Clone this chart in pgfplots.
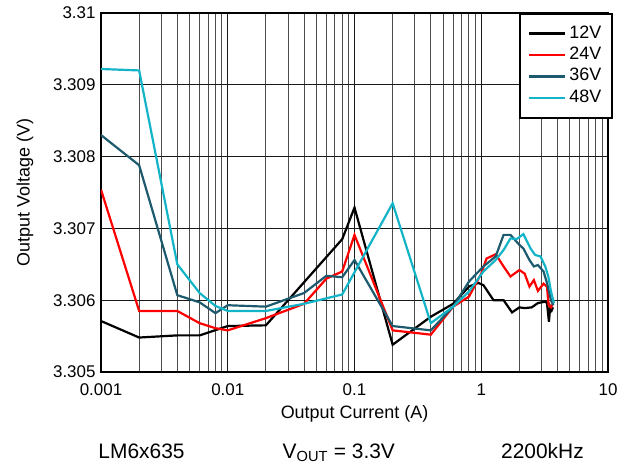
\documentclass[border=0pt]{standalone}
\usepackage{pgfplots}
\pgfplotsset{compat=1.18}
\usepackage{fontspec}
\setmainfont{Liberation Sans}
\definecolor{c36}{RGB}{30,90,110}
\definecolor{c48}{RGB}{20,180,200}
\begin{document}
\begin{tikzpicture}
\path[use as bounding box] (0bp,0bp) rectangle (634bp,465bp);
\begin{axis}[
  at={(101bp,93bp)}, anchor=south west,
  width=507bp, height=359bp, scale only axis,
  xmode=log, xmin=0.001, xmax=10, ymin=3.305, ymax=3.31,
  xtick={0.001,0.01,0.1,1,10}, xticklabels={0.001,0.01,0.1,1,10},
  minor xtick={0.002,0.003,0.004,0.005,0.006,0.007,0.008,0.009,
               0.02,0.03,0.04,0.05,0.06,0.07,0.08,0.09,
               0.2,0.3,0.4,0.5,0.6,0.7,0.8,0.9,
               2,3,4,5,6,7,8,9},
  ytick={3.305,3.306,3.307,3.308,3.309,3.31},
  yticklabels={3.305,3.306,3.307,3.308,3.309,3.31},
  grid=both,
  major grid style={black!90, line width=1bp},
  minor grid style={black!70, line width=1bp},
  major tick length=0pt, minor tick length=0pt,
  axis line style={line width=2.6bp},
  tick label style={font=\fontsize{17}{20}\selectfont},
  xticklabel style={yshift=-8bp},
  yticklabel style={xshift=-2bp},
  xlabel={Output Current (A)}, ylabel={Output Voltage (V)},
  label style={font=\fontsize{18}{21}\selectfont},
  xlabel style={at={(axis description cs:0.5,-0.117)}, anchor=center},
  ylabel style={at={(axis description cs:-0.150,0.5)}, anchor=center},
  legend style={at={(rel axis cs:1.0099,1)}, anchor=north east,
    draw=black, line width=2bp, fill=white,
    font=\fontsize{18}{18}\selectfont,
    inner xsep=8bp, inner ysep=9bp,
    nodes={text height=12.5bp, text depth=3.5bp, inner sep=2.7bp},
    /tikz/every even column/.append style={column sep=4bp}},
  legend cell align=left,
  legend image code/.code={\draw[#1, line width=2.6bp] (0bp,0bp) -- (36bp,0bp);},
  every axis plot/.append style={line width=2.2bp},
]
\addplot[black] coordinates {
(0.001,3.30571) (0.002,3.30548) (0.004,3.30551) (0.006,3.30551) (0.01,3.30564)
(0.02,3.30565) (0.08,3.30685) (0.1,3.30729) (0.2,3.30538) (0.4,3.30577)
(0.6,3.30595) (0.8,3.30619) (0.95,3.30624) (1.04,3.30621) (1.25,3.30600)
(1.5,3.30600) (1.75,3.30583) (2.0,3.30590) (2.2,3.30589) (2.5,3.30590)
(2.8,3.30596) (3.2,3.30598) (3.3,3.30596) (3.42,3.30570) (3.5,3.30591)
(3.6,3.30586) (3.68,3.30590)};
\addlegendentry{12V}
\addplot[red] coordinates {
(0.001,3.30754) (0.002,3.30585) (0.004,3.30585) (0.006,3.30568) (0.008,3.30561)
(0.01,3.30558) (0.02,3.30575) (0.04,3.30595) (0.06,3.30630) (0.08,3.30640)
(0.1,3.30691) (0.2,3.30558) (0.4,3.30552) (0.6,3.30591) (0.8,3.30605)
(1.0,3.30637) (1.1,3.30658) (1.3,3.30664) (1.5,3.30647) (1.7,3.30633)
(2.0,3.30642) (2.2,3.30637) (2.4,3.30619) (2.6,3.30628) (2.8,3.30613)
(3.1,3.30623) (3.3,3.30619) (3.4,3.30593) (3.55,3.30590) (3.65,3.30594)};
\addlegendentry{24V}
\addplot[c36] coordinates {
(0.001,3.30830) (0.002,3.30788) (0.004,3.30607) (0.006,3.30597) (0.008,3.30582)
(0.01,3.30593) (0.02,3.30591) (0.04,3.30610) (0.06,3.30634) (0.08,3.30632)
(0.1,3.30656) (0.2,3.30564) (0.4,3.30558) (0.6,3.30591) (0.8,3.30626)
(1.04,3.30647) (1.3,3.30661) (1.5,3.30691) (1.7,3.30691) (2.0,3.30677)
(2.15,3.30672) (2.4,3.30656) (2.6,3.30647) (2.8,3.30649) (3.1,3.30640)
(3.3,3.30624) (3.55,3.30600) (3.7,3.30593)};
\addlegendentry{36V}
\addplot[c48] coordinates {
(0.001,3.30922) (0.002,3.30920) (0.004,3.30650) (0.006,3.30610) (0.008,3.30592)
(0.01,3.30585) (0.02,3.30585) (0.04,3.30595) (0.08,3.30608) (0.2,3.30735)
(0.4,3.30568) (0.6,3.30591) (0.8,3.30612) (1.04,3.30640) (1.3,3.30656)
(1.5,3.30670) (1.7,3.30686) (1.9,3.30685) (2.15,3.30692) (2.45,3.30672)
(2.66,3.30663) (2.93,3.30661) (3.2,3.30647) (3.38,3.30633) (3.55,3.30612)
(3.75,3.30596)};
\addlegendentry{48V}
\end{axis}
\node[font=\fontsize{21}{24}\selectfont, anchor=base] at (141.5bp,7bp) {LM6x635};
\node[font=\fontsize{21}{24}\selectfont, anchor=base west, inner sep=0pt] at (282.5bp,7bp) {V\textsubscript{OUT} = 3.3V};
\node[font=\fontsize{21}{24}\selectfont, anchor=base] at (542.5bp,7bp) {2200kHz};
\end{tikzpicture}
\end{document}
